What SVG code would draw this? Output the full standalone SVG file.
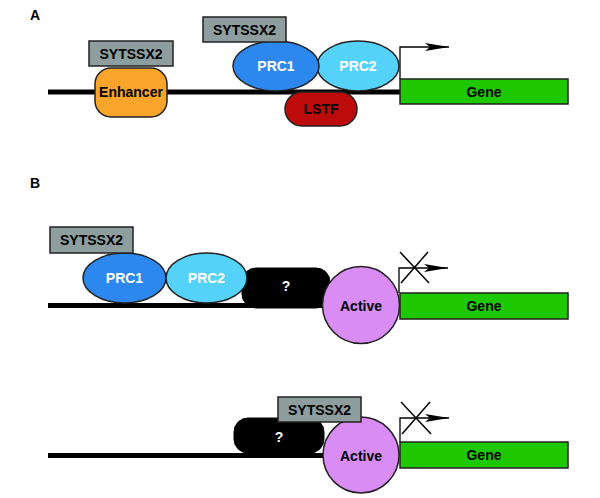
<svg xmlns="http://www.w3.org/2000/svg" width="600" height="498" viewBox="0 0 600 498">
<defs>
<style>
text{font-family:"Liberation Sans",Arial,sans-serif;font-weight:bold;font-size:14px;text-anchor:middle}
.lbl{font-size:14px;text-anchor:start}
.dna{stroke:#000;stroke-width:5;fill:none}
.sh{stroke:#222;stroke-width:1.5}
.syt{fill:#8e9e9e}
.enh{fill:#f9a42a}
.p1{fill:#2c87ee}
.p2{fill:#55d2fa}
.lstf{fill:#bd0b0b}
.gene{fill:#1ec800}
.act{fill:#d98cf4}
.q{fill:#000;stroke:#000}
.w{fill:#fff}
.tss{stroke:#000;stroke-width:1.3;fill:none}
.x{stroke:#000;stroke-width:1.5}
</style>
<marker id="ah" markerWidth="26" markerHeight="10" refX="24" refY="5" orient="auto" markerUnits="userSpaceOnUse">
<path d="M0,1 L24,5 L0,9 L5,5 Z" fill="#000"/>
</marker>
</defs>
<text class="lbl" x="30" y="20">A</text>
<text class="lbl" x="30" y="188">B</text>

<g id="connectors">
<line class="dna" x1="48" y1="92" x2="401" y2="92"/>
<line class="dna" x1="48" y1="305.5" x2="401" y2="305.5"/>
<line class="dna" x1="48" y1="455.5" x2="370" y2="455.5"/>
<path class="tss" d="M400,79 V47 H449" marker-end="url(#ah)"/>
<path class="tss" d="M399,293 V268 H448" marker-end="url(#ah)"/>
<path class="tss" d="M400,442 V418 H449" marker-end="url(#ah)"/>
</g>

<g id="a-enhancer"><rect class="sh enh" x="95" y="68" width="72" height="49" rx="16"/><text x="131" y="97">Enhancer</text></g>
<g id="a-syt1"><rect class="sh syt" x="89" y="41" width="84" height="25"/><text x="131" y="58.5">SYTSSX2</text></g>
<g id="a-lstf"><rect class="sh lstf" x="285" y="92" width="72" height="34" rx="17"/><text x="321" y="114">LSTF</text></g>
<g id="a-prc2"><ellipse class="sh p2" cx="358" cy="66" rx="41" ry="25"/><text class="w" x="358" y="71">PRC2</text></g>
<g id="a-prc1"><ellipse class="sh p1" cx="276" cy="66" rx="43" ry="25"/><text class="w" x="276" y="71">PRC1</text></g>
<g id="a-syt2"><rect class="sh syt" x="203" y="17" width="83" height="25"/><text x="244.5" y="34.5">SYTSSX2</text></g>
<g id="a-gene"><rect class="sh gene" x="400" y="79" width="168" height="25"/><text x="484" y="96.5">Gene</text></g>

<g id="b1-q"><rect class="q" x="242" y="268" width="88" height="40" rx="14"/><text class="w" x="286" y="291">?</text></g>
<g id="b1-prc1"><ellipse class="sh p1" cx="124.5" cy="278" rx="41.5" ry="25"/><text class="w" x="124.5" y="283">PRC1</text></g>
<g id="b1-prc2"><ellipse class="sh p2" cx="206.5" cy="278" rx="40.5" ry="25"/><text class="w" x="206.5" y="283">PRC2</text></g>
<g id="b1-syt"><rect class="sh syt" x="50" y="227" width="83" height="26"/><text x="91.5" y="245">SYTSSX2</text></g>
<g id="b1-active"><circle class="sh act" cx="361" cy="305" r="38.5"/><text x="361" y="311">Active</text></g>
<g id="b1-gene"><rect class="sh gene" x="400" y="293" width="168" height="26"/><text x="484" y="311">Gene</text></g>
<g id="b1-x"><line class="x" x1="400" y1="252" x2="429" y2="283"/><line class="x" x1="428" y1="252" x2="401" y2="283"/></g>

<g id="b2-q"><rect class="q" x="234" y="418" width="90" height="35" rx="14"/><text class="w" x="279" y="442">?</text></g>
<g id="b2-active"><circle class="sh act" cx="361" cy="455" r="38"/><text x="361" y="461">Active</text></g>
<g id="b2-syt"><rect class="sh syt" x="278" y="397" width="83" height="25"/><text x="319.5" y="414.5">SYTSSX2</text></g>
<g id="b2-gene"><rect class="sh gene" x="400" y="442" width="168" height="26"/><text x="484" y="460">Gene</text></g>
<g id="b2-x"><line class="x" x1="401" y1="402" x2="431" y2="434"/><line class="x" x1="430" y1="402" x2="402" y2="434"/></g>
</svg>
